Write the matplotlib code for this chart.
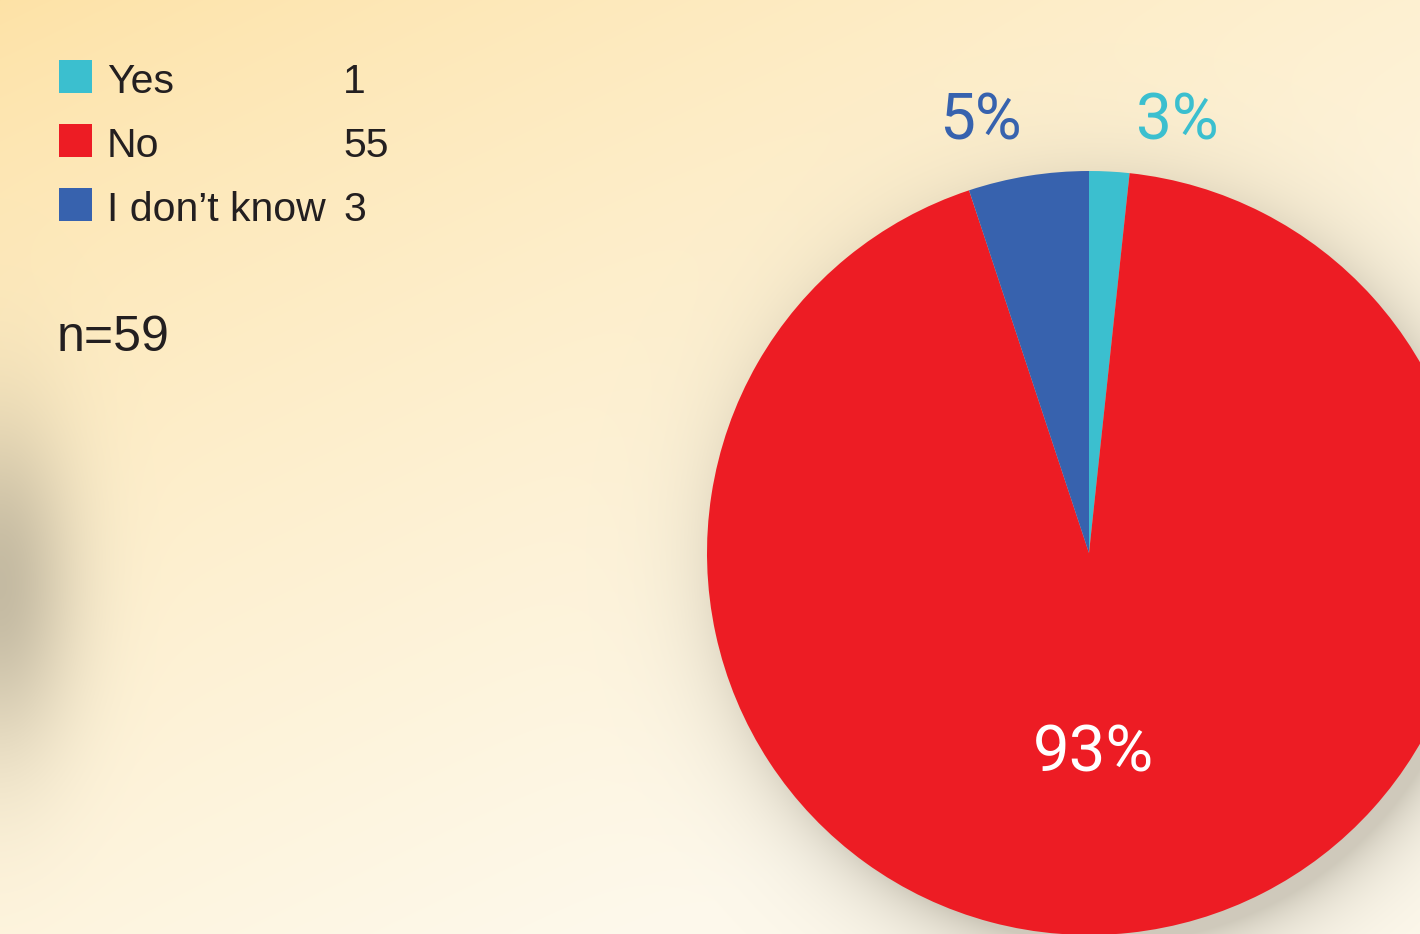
import numpy as np
import matplotlib
matplotlib.use("Agg")
import matplotlib.pyplot as plt

# datos del gráfico
categorias = ["Yes", "No", "I don\u2019t know"]
valores = [1, 55, 3]
etiquetas_pct = ["3%", "93%", "5%"]
colores = ["#3BBFCF", "#ED1C24", "#3762AE"]
total = sum(valores)

W, H = 1420, 934
fig = plt.figure(figsize=(W / 100, H / 100), dpi=100)
ax = fig.add_axes([0, 0, 1, 1])

# fondo: degradado naranja claro -> crema, con sombras suaves
xx, yy = np.meshgrid(np.arange(W), np.arange(H))  # yy = fila desde arriba
t = np.clip((xx / W * 0.55 + yy / H * 0.75), 0, 1) ** 0.8
c0 = np.array([253, 226, 166]) / 255
c1 = np.array([254, 249, 236]) / 255
img = c0[None, None, :] * (1 - t[..., None]) + c1[None, None, :] * t[..., None]

# sombra a la izquierda
sh_left = 0.55 * np.exp(-(xx / 75.0) ** 2 - ((yy - 585) / 165.0) ** 2)
# sombra alrededor del pastel (más marcada abajo a la derecha)
cx, cy, r = 1089, 553, 382
d = np.sqrt((xx - cx - 16) ** 2 + (yy - cy - 20) ** 2)
sh_pie = np.where(d > r - 30, 0.45 * np.exp(-np.clip(d - r + 12, 0, None) / 36.0), 0.45)
alpha = np.clip(sh_left + sh_pie, 0, 0.6)[..., None]
gris = np.array([150, 144, 128]) / 255
img = img * (1 - alpha) + gris * alpha
ax.imshow(np.clip(img, 0, 1), extent=[0, W, 0, H], origin="upper", zorder=0)

# pastel
ax.pie(valores, colors=colores, startangle=90, counterclock=False,
       center=(cx, H - cy), radius=r, frame=True,
       wedgeprops=dict(linewidth=0), normalize=True)
ax.set_xlim(0, W)
ax.set_ylim(0, H)
ax.set_aspect("equal")
ax.axis("off")

# etiquetas de porcentaje
fpct = dict(family=["Roboto", "DejaVu Sans"], fontweight="normal")
ax.text(980, H - 139, etiquetas_pct[2], color=colores[2], fontsize=46,
        ha="center", va="baseline", **fpct)
ax.text(1177, H - 139, etiquetas_pct[0], color=colores[0], fontsize=46,
        ha="center", va="baseline", **fpct)
ax.text(1094, H - 771, etiquetas_pct[1], color="white", fontsize=47,
        ha="center", va="baseline", **fpct)

# leyenda manual
fleg = dict(family=["Liberation Sans Narrow", "Liberation Sans"], color="#231F20")
ys = [93, 157, 221]
for cat, val, col, y in zip(categorias, valores, colores, ys):
    ax.add_patch(plt.Rectangle((59, H - y), 33, 33, color=col, lw=0))
    ax.text(107, H - y, cat, fontsize=29.5, ha="left", va="baseline", **fleg)
    ax.text(343, H - y, str(val), fontsize=29.5, ha="left", va="baseline", **fleg)

ax.text(57, H - 351, f"n={total}", fontsize=36, ha="left", va="baseline",
        family=["Liberation Sans", "DejaVu Sans"], color="#231F20")

fig.savefig("out.png", dpi=100)
